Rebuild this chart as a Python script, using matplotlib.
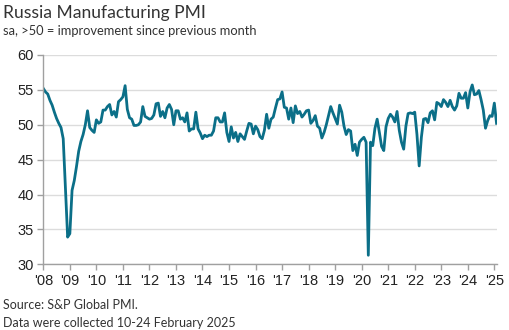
import numpy as np
import pandas as pd
import matplotlib
matplotlib.use('Agg')
import matplotlib.pyplot as plt

# monthly Russia manufacturing PMI, Jan 2008 - Feb 2025
pmi_2008 = [55.2, 54.7, 54.4, 53.5, 52.8, 51.8, 50.9, 50.2, 49.6, 48.0, 41.0, 33.9]
pmi_2009 = [34.4, 40.6, 42.0, 44.0, 46.2, 47.6, 48.6, 50.0, 52.0, 49.6, 49.2, 48.9]
pmi_2010 = [50.7, 50.2, 50.4, 52.1, 52.1, 52.6, 52.9, 51.4, 51.9, 51.1, 53.3, 53.6]
pmi_2011 = [54.0, 55.6, 52.2, 51.0, 50.8, 49.9, 49.9, 50.0, 50.4, 52.6, 51.2, 51.0]
pmi_2012 = [50.8, 50.9, 51.4, 53.0, 53.1, 51.2, 51.9, 51.0, 52.4, 52.9, 52.2, 50.0]
pmi_2013 = [52.0, 52.0, 50.8, 51.0, 50.4, 51.7, 49.1, 49.4, 49.4, 51.8, 49.4, 48.8]
pmi_2014 = [48.0, 48.5, 48.3, 48.5, 48.5, 49.1, 51.0, 51.0, 50.4, 50.4, 51.7, 48.9]
pmi_2015 = [47.6, 49.7, 48.1, 48.9, 47.6, 48.7, 48.3, 47.9, 49.1, 50.2, 50.1, 48.7]
pmi_2016 = [49.8, 49.3, 48.3, 48.0, 49.2, 51.5, 49.5, 50.8, 51.1, 52.4, 53.6, 53.7]
pmi_2017 = [54.7, 52.5, 52.4, 50.8, 52.4, 50.3, 52.7, 51.6, 51.9, 51.1, 51.5, 52.0]
pmi_2018 = [52.1, 50.2, 50.6, 51.3, 49.8, 49.5, 48.1, 48.9, 50.0, 51.3, 52.6, 51.7]
pmi_2019 = [50.9, 50.1, 52.8, 51.8, 49.8, 48.6, 49.3, 49.1, 46.3, 47.2, 45.6, 47.5]
pmi_2020 = [47.9, 48.2, 47.5, 31.3, 47.5, 47.0, 49.5, 50.8, 48.9, 46.9, 46.3, 49.7]
pmi_2021 = [50.9, 51.5, 51.1, 50.4, 51.9, 49.2, 47.5, 46.5, 49.8, 51.6, 51.7, 51.6]
pmi_2022 = [51.8, 48.6, 44.1, 48.2, 50.8, 50.9, 50.3, 51.7, 52.0, 50.7, 53.2, 53.0]
pmi_2023 = [52.6, 53.6, 53.2, 52.6, 53.5, 52.6, 52.1, 52.7, 54.5, 53.8, 53.8, 54.6]
pmi_2024 = [52.4, 54.7, 55.7, 54.3, 54.4, 54.9, 53.6, 52.1, 49.5, 50.6, 51.3, 51.2]
pmi_2025 = [53.1, 50.2]

years = list(range(2008, 2026))
tick_labels = ["'%02d" % (y % 100) for y in years]
y_ticks = [30, 35, 40, 45, 50, 55, 60]

title = 'Russia Manufacturing PMI'
subtitle = 'sa, >50 = improvement since previous month'
source = 'Source: S&P Global PMI.'
note = 'Data were collected 10-24 February 2025'

pmi = np.concatenate([pmi_2008, pmi_2009, pmi_2010, pmi_2011, pmi_2012,
                      pmi_2013, pmi_2014, pmi_2015, pmi_2016, pmi_2017,
                      pmi_2018, pmi_2019, pmi_2020, pmi_2021, pmi_2022,
                      pmi_2023, pmi_2024, pmi_2025])
dates = pd.date_range('2008-01-01', periods=len(pmi), freq='MS')
t = dates.year + (dates.month - 1) / 12.0

plt.rcParams['font.family'] = ['Liberation Sans', 'DejaVu Sans']
head_font = ['Lato', 'DejaVu Sans']

fig = plt.figure(figsize=(5.09, 3.30), dpi=100)
ax = fig.add_axes([0.0851, 0.199, 0.8913, 0.6345])

ax.plot(t, pmi, color='#0b6f88', lw=2.0, solid_joinstyle='round')

ax.set_xlim(2008.0, 2025.1)
ax.set_ylim(30, 60)
ax.set_yticks(y_ticks)
ax.set_xticks(years)
ax.set_xticklabels(tick_labels)

ax.grid(axis='y', color='#dcdcdc', lw=1.0)
ax.set_axisbelow(True)
for side in ('top', 'right'):
    ax.spines[side].set_visible(False)
for side in ('left', 'bottom'):
    ax.spines[side].set_color('#a0a0a0')
    ax.spines[side].set_linewidth(1.0)
ax.tick_params(axis='both', colors='#a0a0a0', length=4, width=1.0,
               labelcolor='#222222', labelsize=10.5)
ax.tick_params(axis='x', pad=3)
ax.tick_params(axis='y', pad=3)

fig.text(0.006, 0.945, title, fontsize=12.6, color='#333333',
         family=head_font, va='baseline')
fig.text(0.006, 0.893, subtitle, fontsize=9.3, color='#333333',
         family=head_font, va='baseline')
fig.text(0.006, 0.065, source, fontsize=9.0, color='#333333',
         family=head_font, va='baseline')
fig.text(0.006, 0.01, note, fontsize=9.0, color='#333333',
         family=head_font, va='baseline')

fig.savefig('out.png', dpi=100)
